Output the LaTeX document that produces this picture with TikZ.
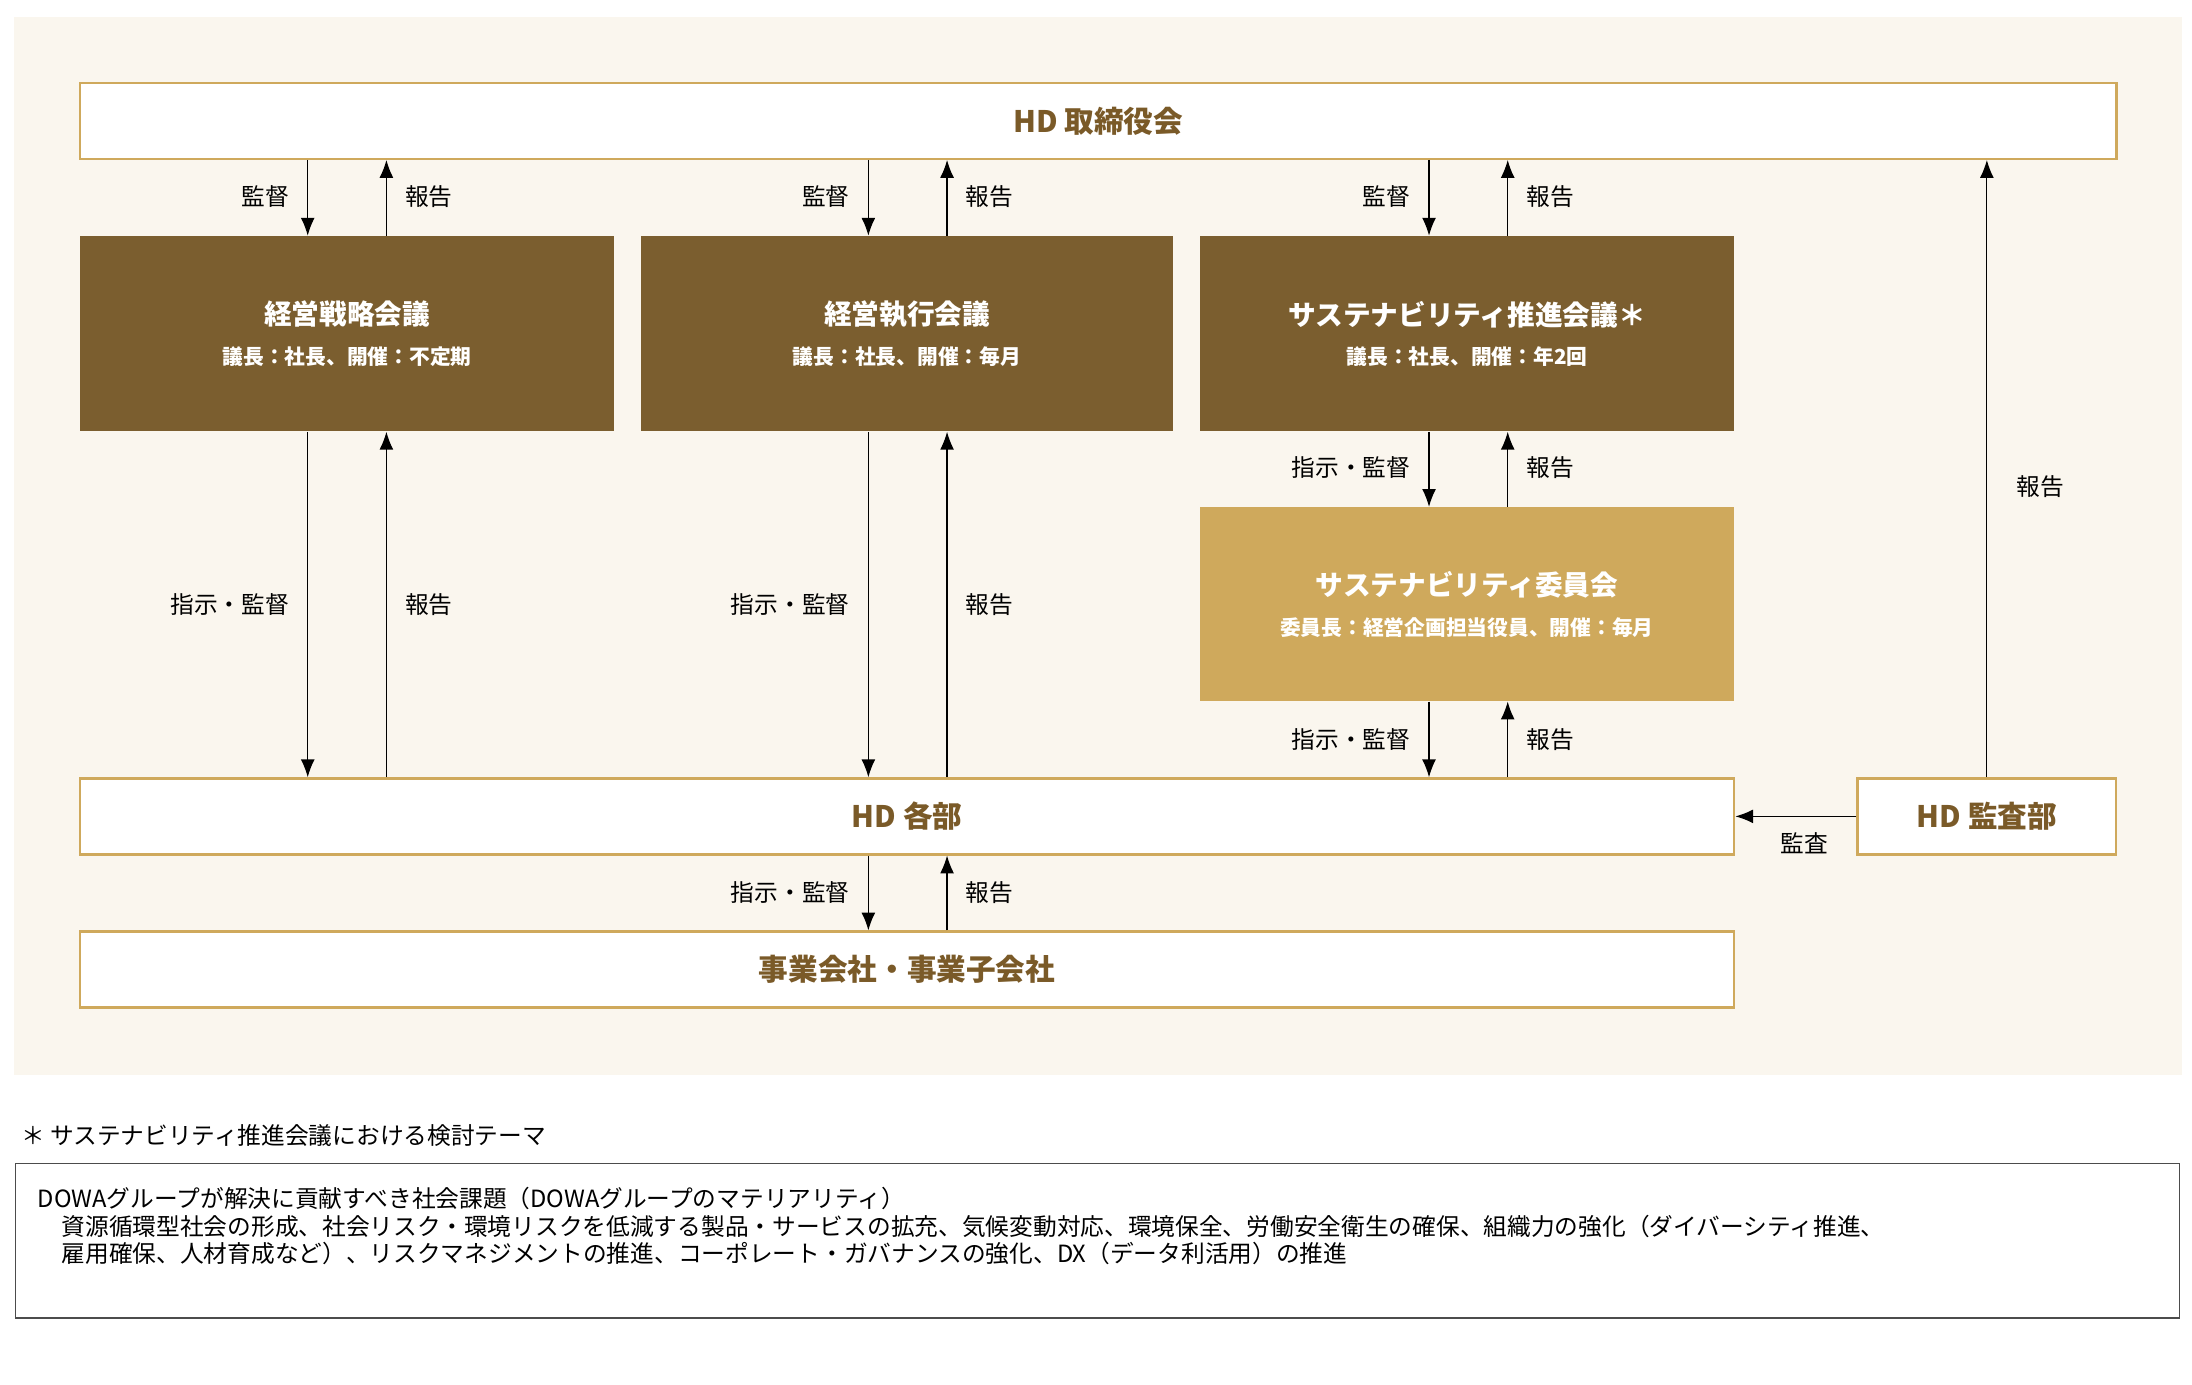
\documentclass[tikz,border=0pt]{standalone}
\usepackage{fontspec}
\setmainfont{Noto Sans CJK JP}
\usetikzlibrary{arrows.meta, positioning}
\definecolor{beige}{HTML}{FAF6EE}
\definecolor{gold}{HTML}{CFA95C}
\definecolor{brown}{HTML}{7B5E2F}
\definecolor{textbrown}{HTML}{7A5A28}
\tikzstyle{frame} = [rectangle, draw=gold, line width=1.2pt, fill=white, inner sep=0pt, text=textbrown, font=\fontsize{15}{18}\selectfont\bfseries]
\tikzstyle{council} = [rectangle, fill=brown, inner sep=0pt, text=white, align=center, font=\fontsize{14}{24}\selectfont\bfseries]
\tikzstyle{committee} = [council, fill=gold]
\tikzstyle{arrow} = [line width=0.6pt, -{Latex[length=9pt,width=7pt]}]
\tikzstyle{lbl} = [font=\fontsize{12}{14}\selectfont]
\newcommand{\sub}[1]{\\[-4pt]{\fontsize{10.5}{12}\selectfont #1}}

\begin{document}
\begin{tikzpicture}[x=0.025cm, y=-0.025cm]
\useasboundingbox (0,0) rectangle (1560,985);
\fill[beige] (10,12) rectangle (1553,765);

% boxes
\node (board) [frame, minimum width=36.225cm, minimum height=1.35cm] at (781.5,86) {HD 取締役会};
\node (strategy) [council, minimum width=9.5cm, minimum height=3.475cm] at (247,237.5) {経営戦略会議\sub{議長：社長、開催：不定期}};
\node (exec) [council, minimum width=9.475cm, minimum height=3.475cm] at (645.5,237.5) {経営執行会議\sub{議長：社長、開催：毎月}};
\node (promo) [council, minimum width=9.5cm, minimum height=3.475cm] at (1044,237.5) {サステナビリティ推進会議＊\sub{議長：社長、開催：年2回}};
\node (comm) [committee, minimum width=9.5cm, minimum height=3.45cm] at (1044,430) {サステナビリティ委員会\sub{委員長：経営企画担当役員、開催：毎月}};
\node (dept) [frame, minimum width=29.425cm, minimum height=1.35cm] at (645.5,581) {HD 各部};
\node (audit) [frame, minimum width=4.6cm, minimum height=1.35cm] at (1414,581) {HD 監査部};
\node (group) [frame, minimum width=29.425cm, minimum height=1.35cm] at (645.5,690) {事業会社・事業子会社};

% board <-> councils
\foreach \n/\x in {strategy/219, exec/618, promo/1017} {
  \draw [arrow] (board.south -| \x,0) -- (\n.north -| \x,0);
  \draw [arrow] (\n.north -| \x+56,0) -- (board.south -| \x+56,0);
  \node [lbl, left=6pt] at (\x,140) {監督};
  \node [lbl, right=6pt] at (\x+56,140) {報告};
}
% councils -> dept
\foreach \n/\x in {strategy/219, exec/618} {
  \draw [arrow] (\n.south -| \x,0) -- (dept.north -| \x,0);
  \draw [arrow] (dept.north -| \x+56,0) -- (\n.south -| \x+56,0);
  \node [lbl, left=6pt] at (\x,430) {指示・監督};
  \node [lbl, right=6pt] at (\x+56,430) {報告};
}
\draw [arrow] (promo.south -| 1017,0) -- (comm.north -| 1017,0);
\draw [arrow] (comm.north -| 1073,0) -- (promo.south -| 1073,0);
\node [lbl, left=6pt] at (1017,333) {指示・監督};
\node [lbl, right=6pt] at (1073,333) {報告};
\draw [arrow] (comm.south -| 1017,0) -- (dept.north -| 1017,0);
\draw [arrow] (dept.north -| 1073,0) -- (comm.south -| 1073,0);
\node [lbl, left=6pt] at (1017,526) {指示・監督};
\node [lbl, right=6pt] at (1073,526) {報告};
% dept -> group
\draw [arrow] (dept.south -| 618,0) -- (group.north -| 618,0);
\draw [arrow] (group.north -| 674,0) -- (dept.south -| 674,0);
\node [lbl, left=6pt] at (618,635) {指示・監督};
\node [lbl, right=6pt] at (674,635) {報告};
% audit
\draw [arrow] (audit.west) -- (dept.east);
\node [lbl] at (1284,600) {監査};
\draw [arrow] (audit.north) -- (audit.north |- board.south);
\node [lbl] at (1452,346) {報告};

% footnote
\node (note) [lbl, anchor=west] at (10,808) {＊ サステナビリティ推進会議における検討テーマ};
\draw [line width=0.6pt, draw=black!70] (11,828) rectangle (1551,938);
\node (themes) [lbl, anchor=north west, align=left] at (22,840) {DOWAグループが解決に貢献すべき社会課題（DOWAグループのマテリアリティ）\\
\quad 資源循環型社会の形成、社会リスク・環境リスクを低減する製品・サービスの拡充、気候変動対応、環境保全、労働安全衛生の確保、組織力の強化（ダイバーシティ推進、\\
\quad 雇用確保、人材育成など）、リスクマネジメントの推進、コーポレート・ガバナンスの強化、DX（データ利活用）の推進};
\end{tikzpicture}
\end{document}
